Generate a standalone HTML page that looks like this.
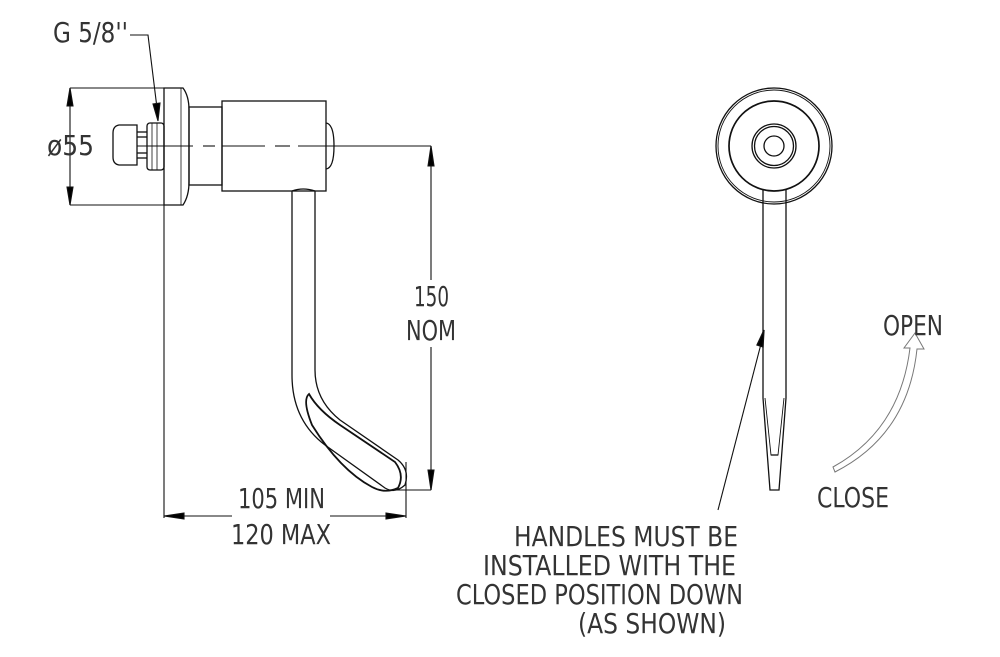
<!DOCTYPE html>
<html><head><meta charset="utf-8"><style>
html,body{margin:0;padding:0;background:#fff;}
svg{display:block}
text{font-family:"DejaVu Sans Condensed","Liberation Sans",sans-serif;fill:#333;font-weight:300}
</style></head><body>
<svg width="1000" height="657" viewBox="0 0 1000 657" xmlns="http://www.w3.org/2000/svg">
<g stroke="#111" stroke-width="1.3" fill="none">
<!-- body flange -->
<path d="M164 88 H183 Q189 96 189 110 V182 Q189 196 183 205 H164 Z"/>
<line x1="181" y1="88" x2="181" y2="205" stroke-width="0.8"/>
<!-- neck -->
<rect x="189" y="107" width="33" height="78"/>
<!-- main cylinder -->
<rect x="222" y="101" width="104" height="90"/>
<path d="M326 123 Q334 124 334 146 Q334 168 326 169"/>
<!-- fitting -->
<rect x="147" y="123" width="17" height="47" rx="3"/>
<line x1="152" y1="123" x2="152" y2="170" stroke-width="0.8"/>
<line x1="157" y1="123" x2="157" y2="170" stroke-width="0.8"/>
<path d="M137 125 H119 Q113 126 113 133 V157 Q113 164 119 165 H137 Z"/>
<line x1="137" y1="132" x2="147" y2="132"/><line x1="137" y1="137" x2="147" y2="137"/>
<line x1="137" y1="153" x2="147" y2="153"/><line x1="137" y1="158" x2="147" y2="158"/>
<!-- handle -->
<path d="M292 191 V375 Q292 420 325 445 L385 488 Q395 494 405 485 Q410 470 398 460 L340 420 Q315 400 315 370 V191"/>
<path d="M309 394 Q302 400 312 425 Q340 470 372 487 Q385 494 398 488 Q405 475 395 462 L340 425 Q318 410 309 394 Z" stroke-width="1.8"/>
<path d="M292 191 Q303 187 315 191"/>
</g>
<g stroke="#111" stroke-width="1.1" fill="none">
<line x1="137" y1="146" x2="193" y2="146"/>
<line x1="203" y1="146" x2="215" y2="146"/>
<line x1="222" y1="146" x2="265" y2="146"/>
<line x1="275" y1="146" x2="290" y2="146"/>
<line x1="298" y1="146" x2="431" y2="146"/>
<line x1="70" y1="88" x2="164" y2="88"/><line x1="70" y1="205" x2="164" y2="205"/>
<line x1="70" y1="88" x2="70" y2="205"/>
<path d="M70 88 L67 106 L73 106 Z M70 205 L67 187 L73 187 Z" fill="#000"/>
<polyline points="130,35 148,35 157,108"/>
<path d="M158 121 L153 104 L160 103 Z" fill="#000"/>
<line x1="431" y1="146" x2="431" y2="280"/>
<line x1="431" y1="347" x2="431" y2="490"/>
<path d="M431 146 L428 166 L434 166 Z M431 490 L428 470 L434 470 Z" fill="#000"/>
<line x1="395" y1="490" x2="431" y2="490"/>
<line x1="164" y1="205" x2="164" y2="518"/>
<line x1="406" y1="462" x2="406" y2="518"/>
<line x1="164" y1="516" x2="232" y2="516"/>
<line x1="330" y1="516" x2="406" y2="516"/>
<path d="M164 516 L184 513 L184 519 Z M406 516 L386 513 L386 519 Z" fill="#000"/>
</g>
<g stroke="#111" stroke-width="1.3" fill="none">
<circle cx="774" cy="146" r="58"/>
<circle cx="774" cy="146" r="56" stroke-width="0.9"/>
<circle cx="774" cy="146" r="45" stroke-width="1.7"/>
<circle cx="774" cy="146" r="22"/>
<circle cx="774" cy="146" r="19.5"/>
<circle cx="774" cy="146" r="10"/>
<path d="M763 190 V398 L770 490 H779 L786 398 V190"/>
<path d="M765 398 L771 455 H778 L784 398" stroke-width="0.9"/>
<line x1="771" y1="455" x2="778" y2="455"/>
<line x1="718" y1="510" x2="762" y2="340" stroke-width="1.1"/>
<path d="M764 330 L757 345 L763 347 Z" fill="#000"/>
<path d="M833 467 Q900 430 910 348 L904 348 L915 333 L924 349 L917 349 Q908 435 835 472 Z" stroke="#777" stroke-width="1" fill="#fff"/>
</g>
<g font-size="28">
<text x="53" y="42" textLength="75" lengthAdjust="spacingAndGlyphs">G 5/8''</text>
<text x="47" y="155" textLength="47" lengthAdjust="spacingAndGlyphs">ø55</text>
<text x="414" y="306" textLength="35" lengthAdjust="spacingAndGlyphs">150</text>
<text x="406" y="340" textLength="50" lengthAdjust="spacingAndGlyphs">NOM</text>
<text x="238" y="508" textLength="87" lengthAdjust="spacingAndGlyphs">105 MIN</text>
<text x="231" y="544" textLength="100" lengthAdjust="spacingAndGlyphs">120 MAX</text>
<text x="883" y="335" textLength="60" lengthAdjust="spacingAndGlyphs">OPEN</text>
<text x="817" y="507" textLength="72" lengthAdjust="spacingAndGlyphs">CLOSE</text>
<text x="514" y="546" textLength="224" lengthAdjust="spacingAndGlyphs">HANDLES MUST BE</text>
<text x="483" y="575" textLength="253" lengthAdjust="spacingAndGlyphs">INSTALLED WITH THE</text>
<text x="456" y="604" textLength="287" lengthAdjust="spacingAndGlyphs">CLOSED POSITION DOWN</text>
<text x="578" y="633" textLength="148" lengthAdjust="spacingAndGlyphs">(AS SHOWN)</text>
</g>
</svg>
</body></html>
